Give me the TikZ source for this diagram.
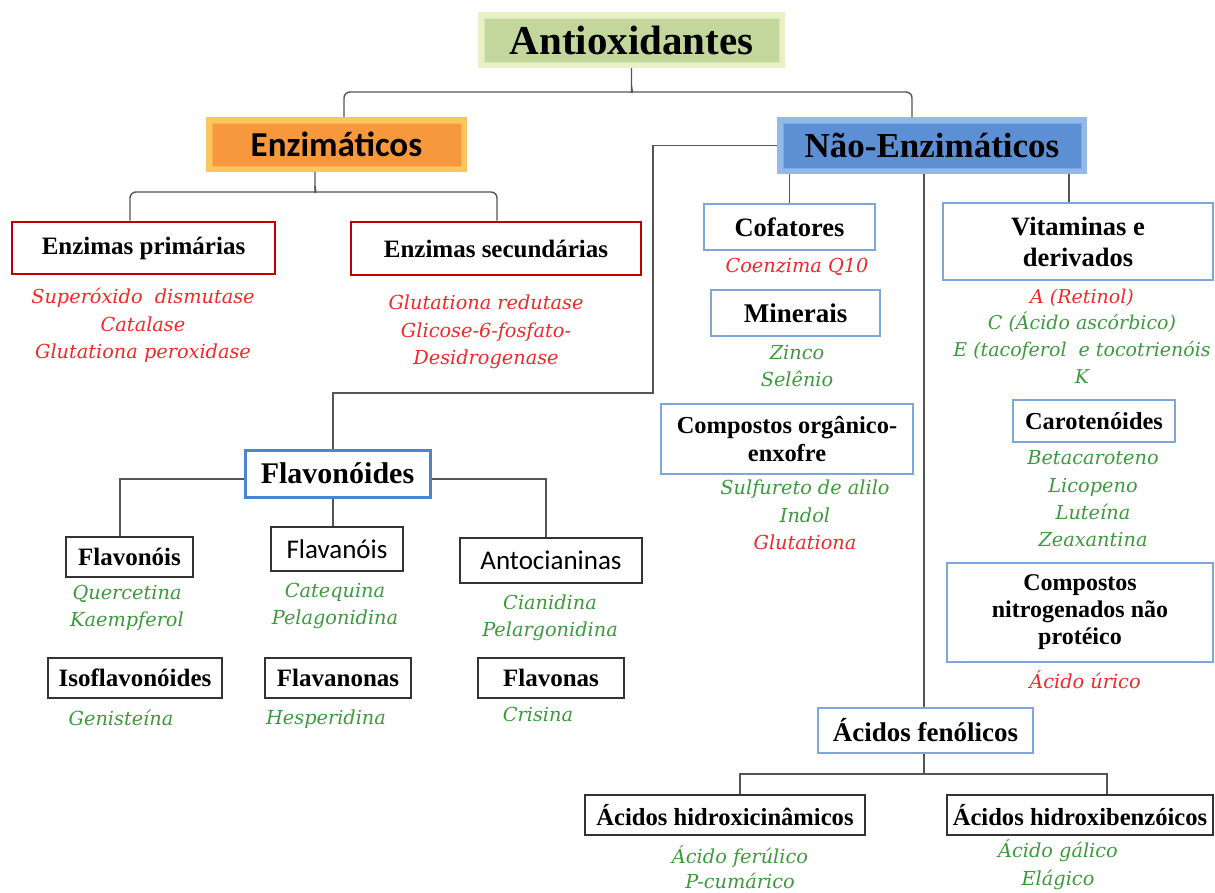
\documentclass[tikz,border=0pt]{standalone}
\usepackage{fontspec}
\setmainfont{Liberation Serif}
\newfontfamily\calib{Carlito}
\newfontfamily\slab{DejaVu Serif}
\definecolor{linegray}{HTML}{555555}
\definecolor{txtred}{HTML}{F02828}
\definecolor{txtgreen}{HTML}{3C9A3C}
\definecolor{boxred}{HTML}{C00000}
\definecolor{boxblue}{HTML}{7EA6DC}
\definecolor{flavblue}{HTML}{4A86D0}
\definecolor{boxblack}{HTML}{333333}
\definecolor{greenout}{HTML}{E8F1C6}
\definecolor{greenin}{HTML}{C3D69B}
\definecolor{orangeout}{HTML}{FCC55E}
\definecolor{orangein}{HTML}{F8983C}
\definecolor{blueout}{HTML}{95B9E6}
\definecolor{bluein}{HTML}{5C8FD3}
\tikzset{
  conn/.style={draw=linegray, line width=1.4pt},
  hd/.style={font=\fontsize{25}{28}\selectfont\bfseries, align=center, inner sep=0pt},
  redbox/.style={hd, draw=boxred, line width=2.6pt, fill=white},
  bluebox/.style={hd, draw=boxblue, line width=1.3pt, fill=white},
  flavbox/.style={hd, draw=flavblue, line width=3pt, fill=white},
  blackbox/.style={hd, draw=boxblack, line width=1.5pt, fill=white},
  lbl/.style={font=\slab\itshape\fontsize{19.3}{27.3}\selectfont, align=center, inner sep=0pt},
  lred/.style={lbl, text=txtred},
  lgreen/.style={lbl, text=txtgreen},
}
\begin{document}
\begin{tikzpicture}[x=1pt, y=-1pt]
\useasboundingbox (0,0) rectangle (1215,892);

% ---- top level: glowing title boxes
\node[fill=greenout, minimum width=307pt, minimum height=56pt] (antiox) at (631.5,40) {};
\node[fill=greenin, draw=greenout!60!greenin, line width=1pt, minimum width=295pt, minimum height=44pt,
      font=\fontsize{41}{44}\selectfont\bfseries, inner sep=0pt] at (antiox.center) {Antioxidantes};

\node[fill=orangeout, minimum width=261pt, minimum height=55pt] (enz) at (336.5,144.5) {};
\node[fill=orangein, draw=orangeout!60!orangein, line width=1pt, minimum width=249pt, minimum height=43pt,
      font=\calib\bfseries\fontsize{35}{38}\selectfont, inner sep=0pt] at (enz.center) {Enzimáticos};

\node[fill=blueout, minimum width=310pt, minimum height=57pt] (nenz) at (932,145.5) {};
\node[fill=bluein, draw=blueout!60!bluein, line width=1pt, minimum width=298pt, minimum height=45pt,
      font=\fontsize{35}{38}\selectfont\bfseries, inner sep=0pt] at (nenz.center) {Não-Enzimáticos};

% ---- enzymatic branch
\node[redbox, minimum width=263pt, minimum height=52pt] (prim) at (143.5,248) {Enzimas primárias};
\node[redbox, minimum width=290pt, minimum height=53pt] (sec) at (496,248.5) {Enzimas secundárias};
\node[lred] (primlist) at (143,325.5) {Superóxido\ \ dismutase\\Catalase\\Glutationa peroxidase};
\node[lred] (seclist) at (486,332) {Glutationa redutase\\Glicose-6-fosfato-\\Desidrogenase};

% ---- non-enzymatic branch
\node[bluebox, minimum width=171pt, minimum height=46pt, font=\fontsize{26.5}{28}\selectfont\bfseries] (cof) at (789.5,227) {Cofatores};
\node[lred] (coflist) at (797,267) {Coenzima Q10};
\node[bluebox, minimum width=169pt, minimum height=46pt, font=\fontsize{27}{28}\selectfont\bfseries] (min) at (795.5,313) {Minerais};
\node[lgreen] (minlist) at (797,366) {Zinco\\Selênio};
\node[bluebox, minimum width=252pt, minimum height=70pt, font=\fontsize{24.4}{28}\selectfont\bfseries] (corg) at (787,439) {Compostos orgânico-\\enxofre};
\node[lgreen] (corglist) at (805,515) {Sulfureto de alilo\\Indol\\\textcolor{txtred}{Glutationa}};

\node[bluebox, minimum width=270pt, minimum height=77pt, font=\fontsize{26.5}{31}\selectfont\bfseries] (vit) at (1078,241.5) {Vitaminas e\\derivados};
\node[lgreen, font=\slab\itshape\fontsize{19}{26.7}\selectfont] (vitlist) at (1082,336) {\textcolor{txtred}{A (Retinol)}\\C (Ácido ascórbico)\\E (tacoferol\ \ e tocotrienóis\\K};
\node[bluebox, minimum width=162pt, minimum height=42pt, font=\fontsize{24.4}{28}\selectfont\bfseries] (caro) at (1094,421) {Carotenóides};
\node[lgreen] (carolist) at (1093,499) {Betacaroteno\\Licopeno\\Luteína\\Zeaxantina};
\node[bluebox, minimum width=266pt, minimum height=99pt, font=\fontsize{24}{27}\selectfont\bfseries] (cnit) at (1080,612.5) {Compostos\\nitrogenados não\\protéico};
\node[lred] (cnitlist) at (1085,680) {Ácido úrico};

\node[bluebox, minimum width=215pt, minimum height=45pt, font=\fontsize{27}{28}\selectfont\bfseries] (acf) at (925.5,730.5) {Ácidos fenólicos};
\node[blackbox, minimum width=280pt, minimum height=40pt, font=\fontsize{24.6}{28}\selectfont\bfseries] (ahc) at (725,815) {Ácidos hidroxicinâmicos};
\node[blackbox, minimum width=266pt, minimum height=40pt, font=\fontsize{24.6}{28}\selectfont\bfseries] (ahb) at (1080,815) {Ácidos hidroxibenzóicos};
\node[lgreen, font=\slab\itshape\fontsize{19.3}{24.5}\selectfont] (ahclist) at (740,867) {Ácido ferúlico\\P-cumárico};
\node[lgreen, font=\slab\itshape\fontsize{19.3}{28}\selectfont] (ahblist) at (1058,865) {Ácido gálico\\Elágico};

% ---- flavonoids
\node[flavbox, minimum width=185pt, minimum height=47pt, font=\fontsize{30}{32}\selectfont\bfseries] (flav) at (337.5,473.5) {Flavonóides};
\node[blackbox, minimum width=127pt, minimum height=40pt] (flvo) at (129.5,557) {Flavonóis};
\node[blackbox, minimum width=132pt, minimum height=44pt, font=\calib\fontsize{27}{28}\selectfont] (flva) at (337,549) {Flavanóis};
\node[blackbox, minimum width=182pt, minimum height=45pt, font=\calib\fontsize{27}{28}\selectfont] (anto) at (551,560.5) {Antocianinas};
\node[lgreen] (flvolist) at (127,608) {Quercetina\\Kaempferol};
\node[lgreen] (flvalist) at (335,606) {Catequina\\Pelagonidina};
\node[lgreen] (antolist) at (550,617.5) {Cianidina\\Pelargonidina};
\node[blackbox, minimum width=174pt, minimum height=40pt] (iso) at (135,678) {Isoflavonóides};
\node[blackbox, minimum width=146pt, minimum height=40pt] (flvn) at (338,678) {Flavanonas};
\node[blackbox, minimum width=146pt, minimum height=40pt] (flvs) at (551,678) {Flavonas};
\node[lgreen] (isolist) at (121,718) {Genisteína};
\node[lgreen] (flvnlist) at (326,719) {Hesperidina};
\node[lgreen] (flvslist) at (538,714) {Crisina};

% ---- connectors
% brace under the main title
\coordinate (tb) at (631.5,86);
\draw[conn, rounded corners=6pt] ([xshift=7.5pt]enz.north) |- (625.5,92) .. controls (629.5,92) and (631.5,90) .. (tb) -- (antiox.south);
\draw[conn, rounded corners=6pt] ([xshift=-20pt]nenz.north) |- (637.5,92) .. controls (633.5,92) and (631.5,90) .. (tb);
% brace under the enzymatic box
\coordinate (eb) at (315,186);
\draw[conn, rounded corners=6pt] ([xshift=-13.5pt]prim.north) |- (309,192) .. controls (313,192) and (315,190) .. (eb) -- (eb |- enz.south);
\draw[conn, rounded corners=6pt] ([xshift=1pt]sec.north) |- (321,192) .. controls (317,192) and (315,190) .. (eb);
% non-enzymatic children
\coordinate (nk) at (653,393);
\draw[conn] (nenz.west) -| (nk) -| ([xshift=-4.5pt]flav.north);
\draw[conn] (cof.north) -- (cof.north |- nenz.south);
\draw[conn] ([xshift=-1.5pt]acf.north) -- ([xshift=-1.5pt]acf.north |- nenz.south);
\draw[conn] ([xshift=-9pt]vit.north) -- ([xshift=-9pt]vit.north |- nenz.south);
% phenolic acids
\coordinate (fj) at (924,774);
\draw[conn] ([xshift=-1.5pt]acf.south) -- (fj);
\draw[conn] ([xshift=15pt]ahc.north) |- (fj) -| ([xshift=27pt]ahb.north);
% flavonoid subclasses
\draw[conn] ([yshift=-5.5pt]flav.west) -| ([xshift=-9.5pt]flvo.north);
\draw[conn] ([yshift=-5.5pt]flav.east) -| ([xshift=-5pt]anto.north);
\draw[conn] ([xshift=-4.5pt]flav.south) -- ([xshift=-4.5pt]flav.south |- flva.north);
\end{tikzpicture}
\end{document}
